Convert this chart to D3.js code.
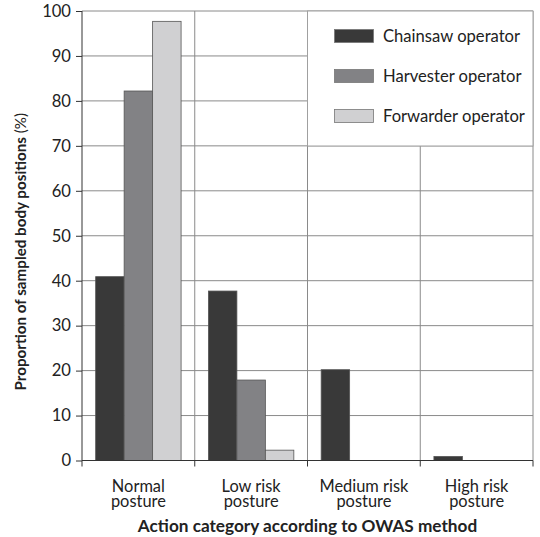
<!DOCTYPE html>
<html><head><meta charset="utf-8">
<script src="https://cdn.jsdelivr.net/npm/d3@7"></script>
<style>body{margin:0;background:#fff}svg{display:block}text{font-family:Lato,"Open Sans",sans-serif;fill:#222}</style>
</head><body><svg id="c" width="540" height="537"></svg>
<script>
const categories = [["Normal","posture"],["Low risk","posture"],["Medium risk","posture"],["High risk","posture"]];
const series = ["Chainsaw operator","Harvester operator","Forwarder operator"];
const chainsaw = [40.9, 37.7, 20.2, 0.9];
const harvester = [82.2, 17.9, 0, 0];
const forwarder = [97.7, 2.3, 0, 0];
const colors = ["#393939","#828285","#d0d0d2"];
const yTicks = [0,10,20,30,40,50,60,70,80,90,100];

const values = [chainsaw, harvester, forwarder];
const svg = d3.select("#c");
const L = 82, R = 533, T = 11, B = 460.5;
const x = d3.scaleBand().domain(d3.range(categories.length)).range([L, R]).paddingInner(0).paddingOuter(0);
const inner = d3.scaleBand().domain(d3.range(series.length)).range([0, x.bandwidth()]).paddingOuter(0.48).paddingInner(0);
const y = d3.scaleLinear().domain([0,100]).range([B, T]);

// gridlines
svg.append("g").selectAll("line").data(yTicks.slice(1)).join("line")
  .attr("x1", L).attr("x2", R).attr("y1", d=>y(d)).attr("y2", d=>y(d))
  .attr("stroke","#8a8a8a").attr("stroke-width",1);
svg.append("g").selectAll("line").data(d3.range(1, categories.length+1)).join("line")
  .attr("x1", d=>x(d-1)+x.bandwidth()).attr("x2", d=>x(d-1)+x.bandwidth())
  .attr("y1", T).attr("y2", B).attr("stroke","#8a8a8a").attr("stroke-width",1);

// legend box
const lg = svg.append("g");
lg.append("rect").attr("x",307.5).attr("y",T).attr("width",R-307.5).attr("height",135)
  .attr("fill","#fff").attr("stroke","#a0a0a0");
series.forEach((s,i)=>{
  const cy = 36 + i*40;
  lg.append("rect").attr("x",334.5).attr("y",cy-6.5).attr("width",39).attr("height",13)
    .attr("fill",colors[i]).attr("stroke","#777").attr("stroke-width",0.8);
  lg.append("text").attr("x",383).attr("y",cy).attr("dy","0.36em")
    .attr("font-size",16.6).text(s);
});

// bars
series.forEach((s,i)=>{
  svg.append("g").selectAll("rect").data(values[i].map((v,j)=>({v,j}))).join("rect")
    .filter(d=>d.v>0)
    .attr("x", d=>x(d.j)+inner(i)).attr("width", inner.bandwidth())
    .attr("y", d=>y(d.v)).attr("height", d=>y(0)-y(d.v))
    .attr("fill", colors[i]).attr("stroke","#555").attr("stroke-width",0.8);
});

// y axis
const ya = svg.append("g").attr("transform",`translate(${L},0)`)
  .call(d3.axisLeft(y).tickValues(yTicks).tickSize(6).tickPadding(5));
ya.selectAll("text").attr("font-size",16.6).style("fill","#222");
ya.selectAll("line,path").attr("stroke","#333");
ya.select(".domain").attr("d",`M0,${T}V${B}`);

// x axis
const xa = svg.append("g").attr("transform",`translate(0,${B})`);
xa.append("line").attr("x1",L).attr("x2",R).attr("stroke","#333");
xa.selectAll("line.t").data(d3.range(categories.length+1)).join("line").attr("class","t")
  .attr("x1", d=>L + d*x.bandwidth()).attr("x2", d=>L + d*x.bandwidth())
  .attr("y1",0).attr("y2",6).attr("stroke","#333");
categories.forEach((c,j)=>{
  const cx = x(j)+x.bandwidth()/2;
  xa.append("text").attr("text-anchor","middle").attr("font-size",16.4)
    .attr("x", cx).attr("y", 31.5).text(c[0]);
  xa.append("text").attr("text-anchor","middle").attr("font-size",16.4)
    .attr("x", cx).attr("y", 46.5).text(c[1]);
});

// titles
svg.append("text").attr("x",(L+R)/2).attr("y",532).attr("text-anchor","middle")
  .attr("font-size",17.2).attr("font-weight","bold").text("Action category according to OWAS method");
const yt = svg.append("text").attr("transform",`translate(26,${(T+B)/2+16}) rotate(-90)`)
  .attr("text-anchor","middle").attr("font-size",15.2);
yt.append("tspan").attr("font-weight","bold").text("Proportion of sampled body positions ");
yt.append("tspan").text("(%)");
</script></body></html>
